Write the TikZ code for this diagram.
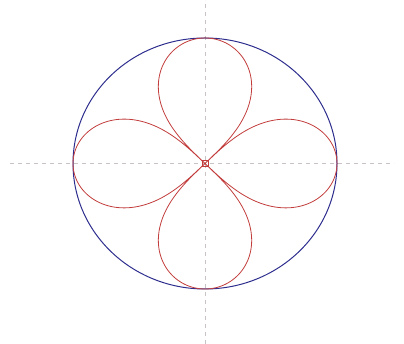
\documentclass[tikz,border=0pt]{standalone}
\usetikzlibrary{calc}
\definecolor{axisgray}{HTML}{C9C3C3}
\definecolor{rimblue}{HTML}{2E2E8E}
\definecolor{rosered}{HTML}{C23C3C}

\begin{document}
\begin{tikzpicture}[x=1pt, y=1pt,
        ax/.style={draw=axisgray, line width=0.8pt, dash pattern=on 4pt off 4pt},
        rim/.style={draw=rimblue, line width=1pt},
        petal/.style={draw=rosered, line width=0.8pt},
      ]
      \useasboundingbox (0,0) rectangle (404,344);
      \coordinate (o) at (205,180.5);

      % axes
      \coordinate (axw) at (10,180.5);
      \coordinate (axe) at (394,180.5);
      \coordinate (axs) at (205,0);
      \coordinate (axn) at (205,344);
      \draw[ax] (axw) -- (axe);
      \draw[ax] (axs) -- (axn);

      % outer rim
      \draw[rim] (o) ellipse [x radius=132pt, y radius=125.5pt];

      % four petals
      \draw[petal, shift={(o)}] plot[domain=0:360, samples=721, smooth]
        ({132*sqrt(abs(cos(2*\x)))*cos(\x)}, {125.5*sqrt(abs(cos(2*\x)))*sin(\x)});

      \node[petal, draw, minimum size=6pt, inner sep=0pt] (mid) at (o) {};
    \end{tikzpicture}
\end{document}
